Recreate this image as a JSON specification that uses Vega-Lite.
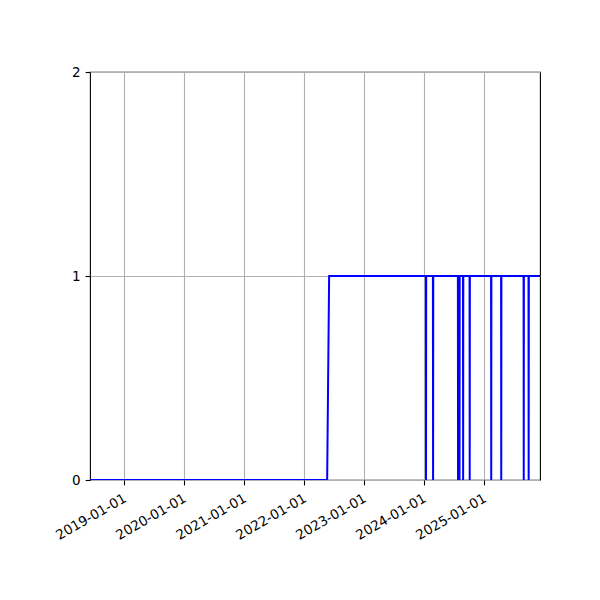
{
  "$schema": "https://vega.github.io/schema/vega-lite/v6.json",
  "width": 450,
  "height": 408,
  "autosize": {"type": "none"},
  "padding": {"left": 90, "top": 72, "right": 60, "bottom": 120},
  "background": "white",
  "data": {
    "values": [
      {"date": "2018-06-06", "value": 0},
      {"date": "2022-05-20", "value": 0},
      {"date": "2022-06-01", "value": 1},
      {"date": "2024-01-11", "value": 1},
      {"date": "2024-01-12", "value": 0},
      {"date": "2024-01-13", "value": 1},
      {"date": "2024-02-23", "value": 1},
      {"date": "2024-02-24", "value": 0},
      {"date": "2024-02-25", "value": 1},
      {"date": "2024-07-24", "value": 1},
      {"date": "2024-07-25", "value": 0},
      {"date": "2024-07-26", "value": 1},
      {"date": "2024-08-02", "value": 1},
      {"date": "2024-08-03", "value": 0},
      {"date": "2024-08-04", "value": 1},
      {"date": "2024-08-24", "value": 1},
      {"date": "2024-08-25", "value": 0},
      {"date": "2024-08-26", "value": 1},
      {"date": "2024-10-03", "value": 1},
      {"date": "2024-10-04", "value": 0},
      {"date": "2024-10-05", "value": 1},
      {"date": "2025-02-11", "value": 1},
      {"date": "2025-02-12", "value": 0},
      {"date": "2025-02-13", "value": 1},
      {"date": "2025-04-13", "value": 1},
      {"date": "2025-04-14", "value": 0},
      {"date": "2025-04-15", "value": 1},
      {"date": "2025-08-28", "value": 1},
      {"date": "2025-08-29", "value": 0},
      {"date": "2025-08-30", "value": 1},
      {"date": "2025-09-27", "value": 1},
      {"date": "2025-09-28", "value": 0},
      {"date": "2025-09-29", "value": 1},
      {"date": "2025-12-06", "value": 1}
    ]
  },
  "mark": {"type": "line", "color": "blue", "strokeWidth": 2, "clip": true},
  "encoding": {
    "x": {
      "field": "date",
      "type": "temporal",
      "scale": {
        "type": "utc",
        "nice": false,
        "domain": [
          {"year": 2018, "month": 6, "date": 6, "utc": true},
          {"year": 2025, "month": 12, "date": 6, "utc": true}
        ]
      },
      "axis": {
        "title": null,
        "format": "%Y-%m-%d",
        "values": [
          {"year": 2019, "month": 1, "date": 1, "utc": true},
          {"year": 2020, "month": 1, "date": 1, "utc": true},
          {"year": 2021, "month": 1, "date": 1, "utc": true},
          {"year": 2022, "month": 1, "date": 1, "utc": true},
          {"year": 2023, "month": 1, "date": 1, "utc": true},
          {"year": 2024, "month": 1, "date": 1, "utc": true},
          {"year": 2025, "month": 1, "date": 1, "utc": true}
        ],
        "labelAngle": -30,
        "labelAlign": "right",
        "labelBaseline": "top",
        "labelPadding": 6,
        "labelOffset": -3,
        "labelFlush": false,
        "labelOverlap": false
      }
    },
    "y": {
      "field": "value",
      "type": "quantitative",
      "scale": {"domain": [0, 2], "nice": false},
      "axis": {
        "title": null,
        "values": [0, 1, 2],
        "labelExpr": "datum.value",
        "labelPadding": 5,
        "labelOverlap": false,
        "labelFlush": false
      }
    }
  },
  "config": {
    "view": {"stroke": "black", "strokeWidth": 1.1},
    "axis": {
      "domain": false,
      "grid": true,
      "gridColor": "#b0b0b0",
      "gridWidth": 1.1,
      "gridOpacity": 1,
      "ticks": true,
      "tickColor": "black",
      "tickSize": 4.9,
      "tickWidth": 1.1,
      "labelColor": "black",
      "labelFont": "DejaVu Sans",
      "labelFontSize": 13.5
    }
  }
}
